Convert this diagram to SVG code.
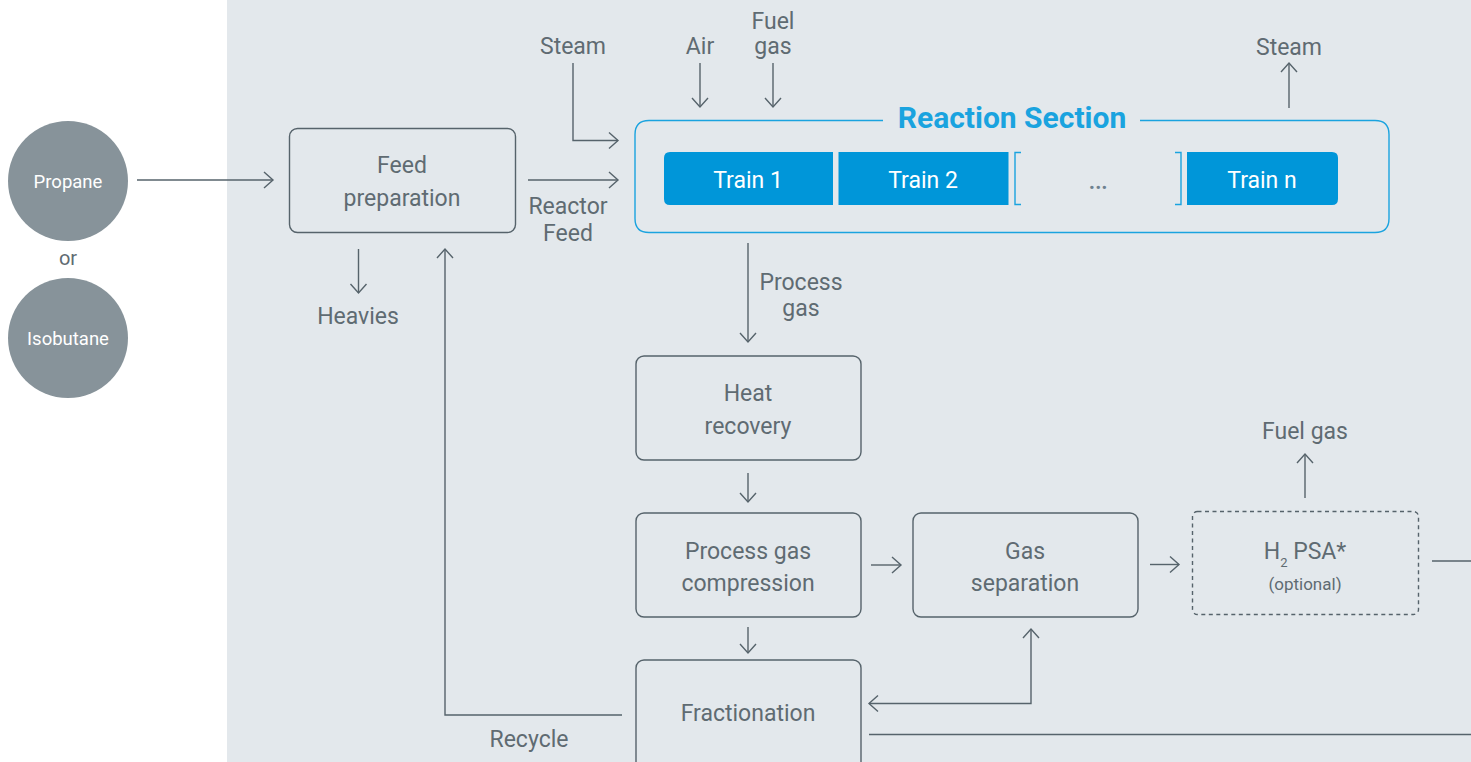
<svg xmlns="http://www.w3.org/2000/svg" width="1471" height="762" viewBox="0 0 1471 762">
  <style>
    .lbl { font-family: Roboto, "Liberation Sans", sans-serif; font-size: 23px; fill: #5f6b72; text-anchor: middle; }
    .small { font-size: 17px; }
    .feed { font-family: Roboto, "Liberation Sans", sans-serif; font-size: 18.5px; fill: #ffffff; text-anchor: middle; }
    .train { font-family: Roboto, "Liberation Sans", sans-serif; font-size: 23px; fill: #ffffff; text-anchor: middle; }
    .title { font-family: Roboto, "Liberation Sans", sans-serif; font-size: 30px; font-weight: 700; fill: #1aa3df; text-anchor: middle; }
    .box { fill: none; stroke: #56636b; stroke-width: 1.4; }
    .dashed { stroke-dasharray: 4 3.5; }
    .flow { fill: none; stroke: #56636b; stroke-width: 1.4; }
    .flow-end { marker-end: url(#chev); }
    .trainbox { fill: #0096d9; }
    .bracket { fill: none; stroke: #1aa3df; stroke-width: 1.4; }
  </style>
  <defs>
    <marker id="chev" markerUnits="userSpaceOnUse" markerWidth="24" markerHeight="24" viewBox="-12 -12 24 24" refX="0" refY="0" orient="auto">
      <path d="M-9,-8 L0,0 L-9,8" fill="none" stroke="#56636b" stroke-width="1.4"/>
    </marker>
    <marker id="chev-start" markerUnits="userSpaceOnUse" markerWidth="24" markerHeight="24" viewBox="-12 -12 24 24" refX="0" refY="0" orient="auto-start-reverse">
      <path d="M-9,-8 L0,0 L-9,8" fill="none" stroke="#56636b" stroke-width="1.4"/>
    </marker>
  </defs>

  <!-- process area backdrop -->
  <rect x="0" y="0" width="1471" height="762" fill="#ffffff"/>
  <rect x="227" y="0" width="1244" height="762" fill="#e3e8ec"/>

  <!-- feedstock options -->
  <g id="propane">
    <circle cx="68" cy="181" r="60" fill="#87939a"/>
    <text class="feed" x="68" y="188">Propane</text>
  </g>
  <text id="or-label" class="lbl" x="68" y="265" style="font-size:20px">or</text>
  <g id="isobutane">
    <circle cx="68" cy="338" r="60" fill="#87939a"/>
    <text class="feed" x="68" y="345">Isobutane</text>
  </g>

  <g id="feed-preparation">
    <rect class="box" x="289.5" y="128.5" width="226" height="104" rx="8"/>
    <text class="lbl" x="402" y="173">Feed</text>
    <text class="lbl" x="402" y="206">preparation</text>
  </g>

  <g id="reaction-section">
    <path class="bracket" d="M883,120.5 H649 Q635,120.5 635,134.5 V218.5 Q635,232.5 649,232.5 H1375 Q1389,232.5 1389,218.5 V134.5 Q1389,120.5 1375,120.5 H1140"/>
    <text class="title" x="1012" y="128">Reaction Section</text>
    <g id="train-1">
      <path class="trainbox" d="M670,152 H833 V205 H670 Q664,205 664,199 V158 Q664,152 670,152 Z"/>
      <text class="train" x="748" y="188">Train 1</text>
    </g>
    <g id="train-2">
      <rect class="trainbox" x="838.5" y="152" width="170" height="53"/>
      <text class="train" x="923" y="188">Train 2</text>
    </g>
    <g id="train-more">
      <path class="bracket" d="M1021,152.5 H1015 V204.5 H1021"/>
      <path class="bracket" d="M1175,152.5 H1181 V204.5 H1175"/>
      <text class="lbl" x="1098" y="189" style="fill:#6f8290;font-size:30px">…</text>
    </g>
    <g id="train-n">
      <path class="trainbox" d="M1187,152 H1332 Q1338,152 1338,158 V199 Q1338,205 1332,205 H1187 Z"/>
      <text class="train" x="1262" y="188">Train n</text>
    </g>
  </g>

  <g id="heat-recovery">
    <rect class="box" x="636" y="356" width="225" height="104" rx="8"/>
    <text class="lbl" x="748" y="401">Heat</text>
    <text class="lbl" x="748" y="434">recovery</text>
  </g>

  <g id="process-gas-compression">
    <rect class="box" x="636" y="513" width="225" height="104" rx="8"/>
    <text class="lbl" x="748" y="559">Process gas</text>
    <text class="lbl" x="748" y="591">compression</text>
  </g>

  <g id="gas-separation">
    <rect class="box" x="913" y="513" width="225" height="104" rx="8"/>
    <text class="lbl" x="1025" y="559">Gas</text>
    <text class="lbl" x="1025" y="591">separation</text>
  </g>

  <g id="h2-psa">
    <rect class="box dashed" x="1192.5" y="511.5" width="226" height="103" rx="5"/>
    <text class="lbl" x="1305" y="559">H<tspan dy="8" style="font-size:13px">2</tspan><tspan dy="-8"> PSA*</tspan></text>
    <text class="lbl small" x="1305" y="590">(optional)</text>
  </g>

  <g id="fractionation">
    <rect class="box" x="636" y="660" width="225" height="110" rx="8"/>
    <text class="lbl" x="748" y="721">Fractionation</text>
  </g>

  <!-- stream labels -->
  <g id="stream-labels">
    <text class="lbl" x="573" y="54">Steam</text>
    <text class="lbl" x="700" y="54">Air</text>
    <text class="lbl" x="773" y="29">Fuel</text>
    <text class="lbl" x="773" y="54">gas</text>
    <text class="lbl" x="1289" y="55">Steam</text>
    <text class="lbl" x="568" y="214">Reactor</text>
    <text class="lbl" x="568" y="241">Feed</text>
    <text class="lbl" x="358" y="324">Heavies</text>
    <text class="lbl" x="801" y="290">Process</text>
    <text class="lbl" x="801" y="316">gas</text>
    <text class="lbl" x="1305" y="439">Fuel gas</text>
    <text class="lbl" x="529" y="747">Recycle</text>
  </g>

  <!-- connectors -->
  <g id="connectors">
    <path class="flow flow-end" d="M137,180 H273"/>
    <path class="flow flow-end" d="M528,180 H618"/>
    <path class="flow flow-end" d="M573,63 V140.5 H618"/>
    <path class="flow flow-end" d="M700,63 V107"/>
    <path class="flow flow-end" d="M773,63 V107"/>
    <path class="flow flow-end" d="M1289,108 V63"/>
    <path class="flow flow-end" d="M358.5,249 V293"/>
    <path class="flow flow-end" d="M622,715 H445 V249"/>
    <path class="flow flow-end" d="M748,243 V342"/>
    <path class="flow flow-end" d="M748,473 V502"/>
    <path class="flow flow-end" d="M748,627 V653"/>
    <path class="flow flow-end" d="M871,565 H901"/>
    <path class="flow flow-end" d="M1150,564.5 H1179"/>
    <path class="flow flow-end" d="M1305,498 V454"/>
    <path class="flow" d="M1432,561 H1471"/>
    <path class="flow" d="M869,734.5 H1471"/>
    <path class="flow" d="M869,703.5 H1031 V629" marker-start="url(#chev-start)" marker-end="url(#chev)"/>
  </g>
</svg>
